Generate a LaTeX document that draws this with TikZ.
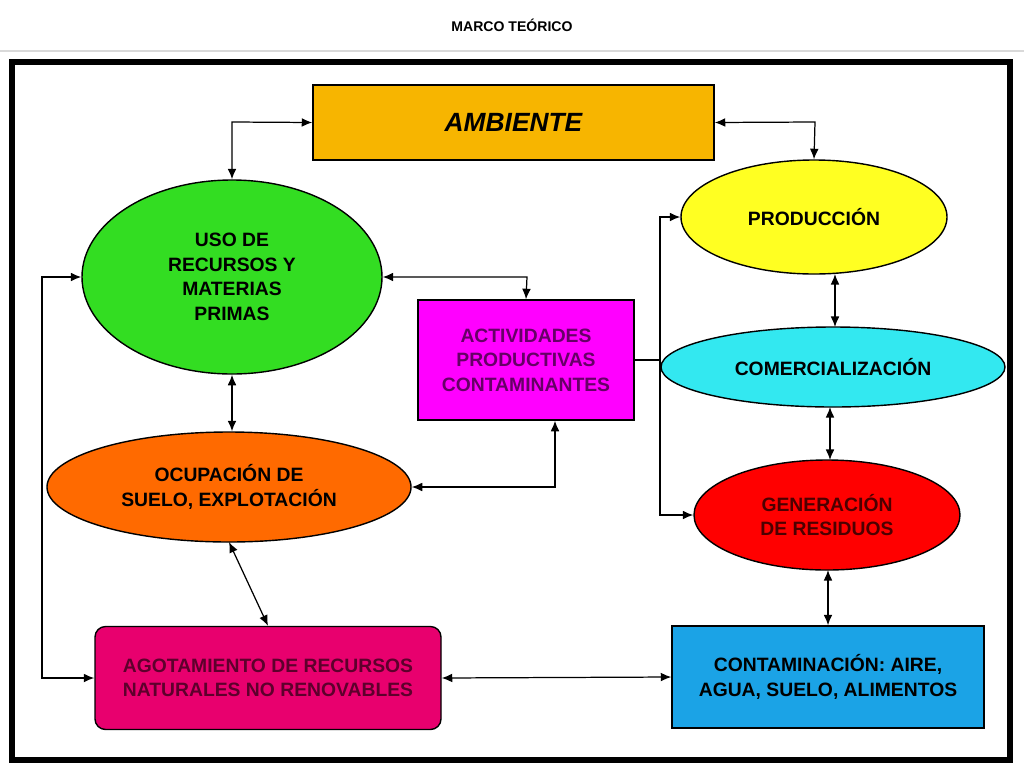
\documentclass[tikz,border=0pt]{standalone}
\usepackage{fontspec}
\setmainfont{Liberation Sans}
\usetikzlibrary{arrows.meta,shapes.geometric}
\definecolor{cAmb}{HTML}{F7B500}
\definecolor{cUso}{HTML}{33DD22}
\definecolor{cAct}{HTML}{FF00FF}
\definecolor{cProd}{HTML}{FFFF22}
\definecolor{cCom}{HTML}{33E8F0}
\definecolor{cGen}{HTML}{FF0000}
\definecolor{cOcu}{HTML}{FF6A00}
\definecolor{cAgo}{HTML}{E8006E}
\definecolor{cCon}{HTML}{1BA3E6}
\begin{document}
\begin{tikzpicture}[x=0.02cm,y=-0.02cm,
  box/.style={draw=black,line width=0.8pt,align=center,inner sep=0pt,font=\fontsize{11}{14}\selectfont\bfseries},
  ell/.style={box,ellipse},
  conn/.style={line width=0.7pt,{Latex[length=6pt,width=5pt]}-{Latex[length=6pt,width=5pt]}},
  plain/.style={line width=0.7pt},
  oneway/.style={line width=0.7pt,-{Latex[length=6pt,width=5pt]}}]
\useasboundingbox (0,0) rectangle (1024,768);
\fill[white] (0,0) rectangle (1024,768);
\node (title) at (512,25) {\fontsize{8}{10}\selectfont\bfseries MARCO TEÓRICO};
\draw[gray!30,line width=0.6pt] (0,51) -- (1024,51);
\draw[line width=3pt] (12,62) rectangle (1010,760);

\node[box,fill=cAmb,minimum width=401*0.02cm,minimum height=75*0.02cm] (amb) at (513.5,122.5) {\fontsize{15}{18}\selectfont\itshape\bfseries AMBIENTE};
\node[ell,fill=cUso,minimum width=300*0.02cm,minimum height=194*0.02cm] (uso) at (232,277) {USO DE\\RECURSOS Y\\MATERIAS\\PRIMAS};
\node[box,fill=cAct,text=black!60!cAct,minimum width=216*0.02cm,minimum height=120*0.02cm] (act) at (526,360) {ACTIVIDADES\\PRODUCTIVAS\\CONTAMINANTES};
\node[ell,fill=cProd,minimum width=266*0.02cm,minimum height=114*0.02cm] (prod) at (814,217) {PRODUCCIÓN};
\node[ell,fill=cCom,minimum width=344*0.02cm,minimum height=80*0.02cm] (com) at (833,367) {COMERCIALIZACIÓN};
\node[ell,fill=cGen,text=black!70!red,minimum width=266*0.02cm,minimum height=110*0.02cm] (gen) at (827,515) {GENERACIÓN\\DE RESIDUOS};
\node[ell,fill=cOcu,minimum width=364*0.02cm,minimum height=110*0.02cm] (ocu) at (229,487) {OCUPACIÓN DE\\SUELO, EXPLOTACIÓN};
\node[box,rounded corners=6pt,fill=cAgo,text=black!60!cAgo,minimum width=346*0.02cm,minimum height=103*0.02cm] (ago) at (268,678) {AGOTAMIENTO DE RECURSOS\\NATURALES NO RENOVABLES};
\node[box,fill=cCon,minimum width=312*0.02cm,minimum height=102*0.02cm] (con) at (828,677) {CONTAMINACIÓN: AIRE,\\AGUA, SUELO, ALIMENTOS};

\coordinate (k1) at (232,122);
\draw[conn] (uso.north) -- (k1) -- (amb.west);
\coordinate (k2) at (815,122);
\draw[conn] (amb.east) -- (k2) -- (prod.north);
\coordinate (k3) at (527,277);
\draw[conn] (uso.east) -- (k3) -- (act.north);
\draw[conn] (uso.south) -- (ocu.north -| uso.south);
\coordinate (k4) at (555,487);
\draw[conn] (ocu.east) -- (k4) -- (act.south -| k4);
\draw[conn] (229,542) -- (ago.north);
\coordinate (k5) at (42,678);
\coordinate (k6) at (42,277);
\draw[conn] (ago.west) -- (k5) -- (k6) -- (uso.west);
\draw[conn] (ago.east) -- (con.west);
\coordinate (j0) at (660,360);
\coordinate (j1) at (660,217);
\coordinate (j2) at (660,515);
\draw[plain] (act.east) -- (j0);
\draw[oneway] (j0) -- (j1) -- (prod.west);
\draw[oneway] (j0) -- (j2) -- (gen.west);
\draw[conn] (835,274) -- (835,327);
\draw[conn] (830,407) -- (830,460);
\draw[conn] (828,570) -- (con.north);
\end{tikzpicture}
\end{document}
